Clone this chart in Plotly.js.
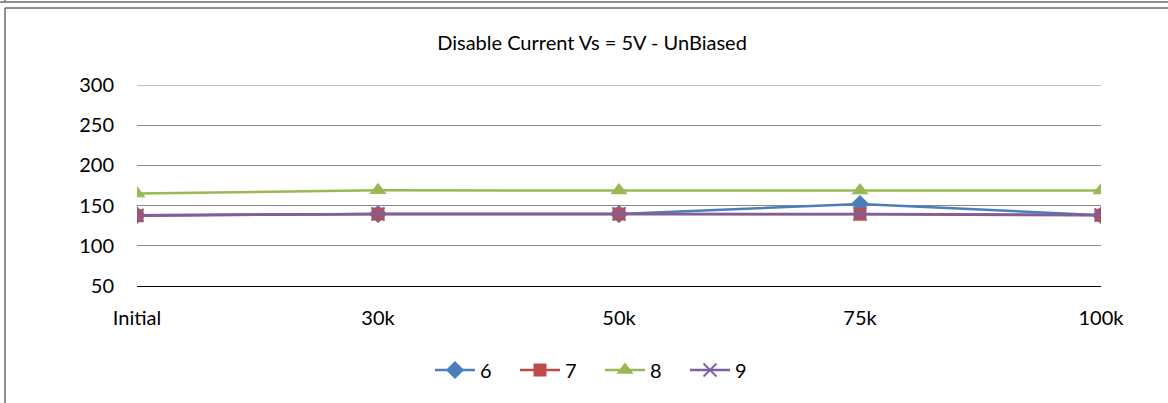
<!DOCTYPE html>
<html>
<head>
<meta charset="utf-8">
<script src="https://cdn.plot.ly/plotly-3.0.1.min.js"></script>
<style>html,body{margin:0;padding:0;background:#fff;}#chart{width:1168px;height:403px;}</style>
</head>
<body>
<div id="chart"></div>
<script>
const categories = ["Initial", "30k", "50k", "75k", "100k"];
const seriesNames = ["6", "7", "8", "9"];
const s6 = [138, 139.5, 139.5, 152, 138];
const s7 = [137.5, 139.5, 139.5, 139.3, 138];
const s8 = [165, 169, 168.7, 168.7, 168.7];
const s9 = [138, 139.7, 139.7, 139.6, 138.4];
const yTicks = [50, 100, 150, 200, 250, 300];

const colors = ["#4A7EBB", "#BE4B48", "#98B954", "#7D60A0"];
const symbols = ["diamond", "square", "triangle-up", "x-thin-open"];
const sizes = [14, 13, 15, 13];
const data = [s6, s7, s8, s9];

const W = 1168, H = 403;
const M = {l: 137, r: 67, t: 85, b: 117};
const pw = W - M.l - M.r, ph = H - M.t - M.b;
const px = x => (x - M.l) / pw;
const py = y => (H - M.b - y) / ph;

const traces = data.map((vals, i) => ({
  type: "scatter",
  mode: "lines+markers",
  name: seriesNames[i],
  x: categories,
  y: vals,
  line: {color: colors[i], width: 2.5},
  marker: {
    symbol: symbols[i],
    size: sizes[i],
    color: colors[i],
    line: {color: colors[i], width: i === 3 ? 1.8 : 0}
  }
}));

const border = "#6a6a6a";
const layout = {
  width: W, height: H,
  margin: M,
  paper_bgcolor: "#ffffff",
  plot_bgcolor: "#ffffff",
  font: {family: "Lato, 'Open Sans', sans-serif", size: 20, color: "#000"},
  title: {
    text: "Disable Current Vs = 5V - UnBiased",
    font: {size: 20, color: "#000"},
    x: 592 / W, xref: "container", xanchor: "center",
    y: 1 - 43 / H, yref: "container", yanchor: "middle"
  },
  xaxis: {
    type: "category",
    range: [0, categories.length - 1],
    showgrid: false,
    showline: true, linecolor: "#000", linewidth: 1,
    ticks: "", ticklabelstandoff: 14,
    tickfont: {size: 20},
    zeroline: false, fixedrange: true
  },
  yaxis: {
    range: [50, 300],
    tickvals: yTicks,
    ticktext: yTicks.map(String),
    showgrid: true, gridcolor: "#868686", gridwidth: 1.2,
    showline: false, zeroline: false,
    ticks: "", ticklabelstandoff: 22,
    tickfont: {size: 20},
    fixedrange: true
  },
  showlegend: true,
  legend: {
    orientation: "h",
    xref: "container", yref: "container",
    x: 600 / W, xanchor: "center",
    y: 1 - 370 / H, yanchor: "middle",
    font: {size: 20},
    itemwidth: 40,
    entrywidth: 30, entrywidthmode: "pixels",
    tracegroupgap: 0
  },
  shapes: [
    {type: "line", xref: "paper", yref: "y", x0: 0, x1: 1, y0: yTicks[yTicks.length - 1], y1: yTicks[yTicks.length - 1], line: {color: "#868686", width: 1.2}, layer: "below"},
    {type: "line", xref: "paper", yref: "paper", x0: px(0), x1: px(W), y0: py(2), y1: py(2), line: {color: border, width: 1.5}},
    {type: "line", xref: "paper", yref: "paper", x0: px(5), x1: px(5), y0: py(0), y1: py(2), line: {color: border, width: 1.5}},
    {type: "line", xref: "paper", yref: "paper", x0: px(5), x1: px(W), y0: py(8), y1: py(8), line: {color: border, width: 1.5}},
    {type: "line", xref: "paper", yref: "paper", x0: px(5), x1: px(5), y0: py(8), y1: py(H), line: {color: border, width: 1.5}}
  ]
};

Plotly.newPlot("chart", traces, layout, {displayModeBar: false, staticPlot: true});
</script>
</body>
</html>
